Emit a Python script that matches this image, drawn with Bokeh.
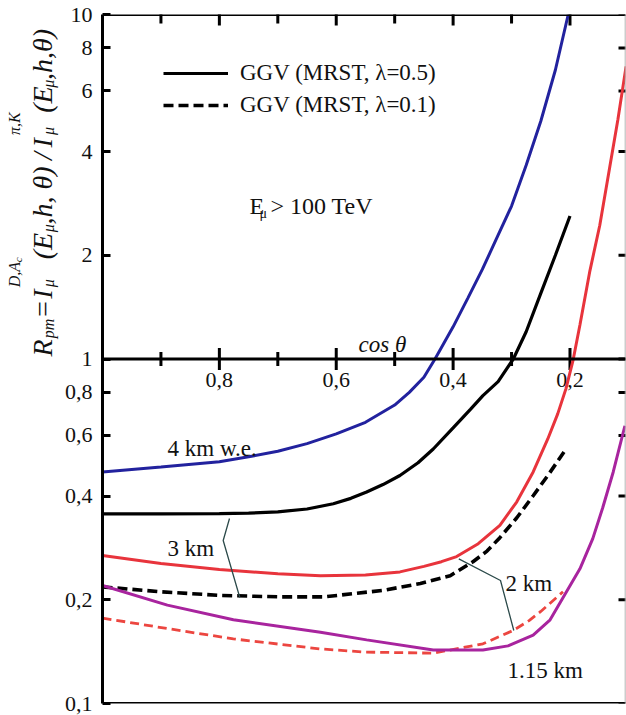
import math

from bokeh.core.properties import value
from bokeh.embed import file_html
from bokeh.layouts import row
from bokeh.models import (CustomJSTickFormatter, FixedTicker, Label, Legend,
                          LegendItem, Range1d, Span)
from bokeh.plotting import figure
from bokeh.resources import INLINE

# ---------------------------------------------------------------------------
# R_pm = I(prompt) / I(pi,K) versus cos(theta), E_mu > 100 TeV
# ---------------------------------------------------------------------------
# 4 km w.e., lambda = 0.5
cos_4km_l05 = [1.0, 0.9, 0.8, 0.75, 0.7, 0.65, 0.6, 0.55, 0.5, 0.475, 0.45, 0.431,
               0.4, 0.375, 0.35, 0.325, 0.3, 0.275, 0.25, 0.225, 0.203]
r_4km_l05 = [0.470, 0.486, 0.503, 0.520, 0.540, 0.568, 0.606, 0.655, 0.735, 0.80,
             0.885, 1.0, 1.24, 1.5, 1.82, 2.25, 2.78, 3.65, 4.9, 6.9, 10.0]

# 3 km, lambda = 0.5
cos_3km_l05 = [1.0, 0.9, 0.8, 0.75, 0.7, 0.65, 0.605, 0.575, 0.548, 0.52, 0.491,
               0.46, 0.434, 0.4, 0.37, 0.349, 0.323, 0.297, 0.275, 0.25, 0.225, 0.2]
r_3km_l05 = [0.355, 0.355, 0.356, 0.357, 0.360, 0.367, 0.380, 0.394, 0.411, 0.432,
             0.459, 0.500, 0.548, 0.631, 0.715, 0.783, 0.86, 1.0, 1.2, 1.55, 2.0, 2.6]

# 3 km, lambda = 0.1
cos_3km_l01 = [1.0, 0.9, 0.8, 0.7, 0.62, 0.52, 0.456, 0.405, 0.366, 0.342, 0.32,
               0.291, 0.263, 0.236, 0.209]
r_3km_l01 = [0.218, 0.211, 0.206, 0.204, 0.204, 0.213, 0.223, 0.235, 0.258, 0.277,
             0.303, 0.346, 0.401, 0.464, 0.541]

# 2 km, lambda = 0.5
cos_2km_l05 = [1.0, 0.9, 0.8, 0.7, 0.627, 0.55, 0.491, 0.45, 0.42, 0.394, 0.357,
               0.32, 0.291, 0.263, 0.238, 0.221, 0.207, 0.195, 0.183, 0.166, 0.149,
               0.132, 0.118, 0.104]
r_2km_l05 = [0.269, 0.255, 0.245, 0.238, 0.235, 0.236, 0.241, 0.250, 0.258, 0.267,
             0.291, 0.329, 0.385, 0.47, 0.586, 0.693, 0.819, 0.987, 1.255, 1.80,
             2.445, 3.6, 4.96, 7.07]

# 2 km, lambda = 0.1
cos_2km_l01 = [1.0, 0.889, 0.776, 0.627, 0.55, 0.434, 0.349, 0.297, 0.27, 0.25, 0.212]
r_2km_l01 = [0.177, 0.165, 0.154, 0.144, 0.141, 0.140, 0.149, 0.163, 0.174, 0.185, 0.211]

# 1.15 km, lambda = 0.5
cos_115km_l05 = [1.0, 0.889, 0.776, 0.627, 0.548, 0.434, 0.349, 0.306, 0.263, 0.234,
                 0.206, 0.183, 0.161, 0.144, 0.126, 0.106]
r_115km_l05 = [0.220, 0.193, 0.175, 0.161, 0.153, 0.143, 0.143, 0.147, 0.158, 0.175,
               0.211, 0.246, 0.301, 0.37, 0.47, 0.64]

# Axis ticks
Y_TICKS = [0.1, 0.2, 0.4, 0.6, 0.8, 1, 2, 4, 6, 8, 10]
X_MAJOR = [0.8, 0.6, 0.4, 0.2]
X_MINOR = [0.9, 0.7, 0.5, 0.3]
X_LABELS = ["0,8", "0,6", "0,4", "0,2"]

# ---------------------------------------------------------------------------
# Layout: a narrow strip for the vertical title, then the chart itself
# ---------------------------------------------------------------------------
TW = 60                      # width of the title strip
W, H = 566, 715              # chart canvas
BL, BR, BT, BB = 42, 1, 14, 12
X_START, X_END = 1.0, 0.105
Y_START, Y_END = 0.1, 10.0

SERIF = "Liberation Serif"
INK = "#111111"
BLUE = "#22229e"
RED = "#e8343c"
RED_D = "#ec4640"
MAGENTA = "#a8249e"
LEADER = "#2c4a4a"


def at(px, py):
    """Page pixel position -> chart data coordinates (annotation placement)."""
    fw = W - BL - BR
    fh = H - BT - BB
    x = X_START + (px - TW - BL) / fw * (X_END - X_START)
    ly0, ly1 = math.log10(Y_START), math.log10(Y_END)
    ly = ly0 + (H - BB - py) / fh * (ly1 - ly0)
    return x, 10 ** ly


p = figure(width=W, height=H, x_range=Range1d(X_START, X_END),
           y_range=Range1d(Y_START, Y_END), y_axis_type="log",
           x_axis_location=None, y_axis_location="left",
           output_backend="svg", toolbar_location=None,
           min_border_left=BL, min_border_right=BR,
           min_border_top=BT, min_border_bottom=BB)
p.grid.visible = False
p.outline_line_color = None
p.background_fill_color = "white"
p.border_fill_color = "white"

# left axis
ax = p.yaxis[0]
ax.ticker = FixedTicker(ticks=Y_TICKS, minor_ticks=[])
ax.formatter = CustomJSTickFormatter(code="return String(tick).replace('.', ',')")
ax.major_tick_in = 8
ax.major_tick_out = 0
ax.minor_tick_in = 0
ax.minor_tick_out = 0
ax.axis_line_width = 3
ax.major_tick_line_width = 3
ax.axis_line_color = "black"
ax.major_label_standoff = 10
ax.major_label_text_font = SERIF
ax.major_label_text_font_size = "22px"
ax.major_label_text_color = INK

# frame edges and the cos(theta) axis at R = 1
p.add_layout(Span(location=Y_END, dimension="width", line_color="black", line_width=3))
p.add_layout(Span(location=Y_START, dimension="width", line_color="black", line_width=3))
p.add_layout(Span(location=X_END, dimension="height", line_color="#9a9a9a", line_width=1.5))
p.add_layout(Span(location=1, dimension="width", line_color="black", line_width=3))

# ticks on the R = 1 axis
p.scatter(x=X_MAJOR, y=[1] * len(X_MAJOR), marker="dash", angle=math.pi / 2,
          size=22, line_width=3, line_color="black")
p.scatter(x=X_MINOR, y=[1] * len(X_MINOR), marker="dash", angle=math.pi / 2,
          size=14, line_width=3, line_color="black")
# ticks along the top edge
p.scatter(x=X_MAJOR, y=[Y_END] * len(X_MAJOR), marker="dash", angle=math.pi / 2,
          size=22, line_width=3, line_color="black")
p.scatter(x=X_MINOR, y=[Y_END] * len(X_MINOR), marker="dash", angle=math.pi / 2,
          size=18, line_width=3, line_color="black")
# ticks along the right edge
p.scatter(x=[X_END] * len(Y_TICKS), y=Y_TICKS, marker="dash",
          size=14, line_width=3, line_color="black")

# cos(theta) tick labels under the R = 1 axis
lab_y = at(0, 372)[1]
p.text(x=X_MAJOR, y=[lab_y] * len(X_MAJOR), text=X_LABELS,
       text_font=value(SERIF), text_font_size="22px", text_color=INK,
       text_align="center", text_baseline="top")

# ---------------------------------------------------------------------------
# Curves
# ---------------------------------------------------------------------------
p.line(cos_4km_l05, r_4km_l05, line_color=BLUE, line_width=3)
r_solid = p.line(cos_3km_l05, r_3km_l05, line_color="black", line_width=3.2)
r_dash = p.line(cos_3km_l01, r_3km_l01, line_color="black", line_width=3.6,
                line_dash="10 5")
p.line(cos_2km_l05, r_2km_l05, line_color=RED, line_width=3)
p.line(cos_2km_l01, r_2km_l01, line_color=RED_D, line_width=2.8, line_dash="9 5")
p.line(cos_115km_l05, r_115km_l05, line_color=MAGENTA, line_width=3)

# leader lines from the depth labels to their curves
lead_3km = [at(229, 518), at(222.7, 540), at(239.3, 597)]
lead_2km = [at(458.3, 558.3), at(500, 580), at(513.3, 630)]
for pts in (lead_3km, lead_2km):
    p.line([q[0] for q in pts], [q[1] for q in pts], line_color=LEADER, line_width=1.3)

# ---------------------------------------------------------------------------
# Legend
# ---------------------------------------------------------------------------
legend = Legend(items=[LegendItem(label="GGV (MRST, λ=0.5)", renderers=[r_solid]),
                       LegendItem(label="GGV (MRST, λ=0.1)", renderers=[r_dash])],
                location=(61, 582), margin=0, padding=0, spacing=0,
                glyph_width=65, glyph_height=32, label_height=32, label_standoff=12,
                label_text_font=SERIF, label_text_font_size="23px",
                label_text_color=INK, border_line_color=None,
                background_fill_color=None)
p.add_layout(legend)


def put(px, py, text, size="23px", style="normal"):
    x, y = at(px, py)
    p.add_layout(Label(x=x, y=y, text=text, text_font=SERIF, text_font_size=size,
                       text_font_style=style, text_color=INK, text_align="left",
                       text_baseline="alphabetic"))


# depth labels
put(167, 448, "4 km w.e.")
put(167, 548, "3 km")
put(505, 583, "2 km")
put(507, 670, "1.15 km")

# energy threshold
put(249, 205, "E", size="24px")
put(259, 213, "μ", size="14px")
put(270, 205, "> 100 TeV", size="24px")

# axis name on the R = 1 line
put(358, 344, "cos θ", style="italic")

# ---------------------------------------------------------------------------
# Vertical title strip (coordinates are page pixels, y downwards)
# R_pm = I_mu^{D,A_c}(E_mu,h,theta) / I_mu^{pi,K}(E_mu,h,theta)
# ---------------------------------------------------------------------------
t = figure(width=TW, height=H, x_range=Range1d(0, TW), y_range=Range1d(H, 0),
           x_axis_location=None, y_axis_location=None,
           output_backend="svg", toolbar_location=None,
           min_border_left=0, min_border_right=0, min_border_top=0, min_border_bottom=0)
t.grid.visible = False
t.outline_line_color = None
t.background_fill_color = "white"
t.border_fill_color = "white"

MAIN_X, SUB_X, SUP_X = 42, 48, 14
title_parts = [
    (MAIN_X, 355, "R", "28px", "italic"),
    (SUB_X, 336, "pm", "16px", "italic"),
    (MAIN_X, 314, "=", "28px", "normal"),
    (MAIN_X, 295, "I", "28px", "italic"),
    (SUP_X, 283, "D,A", "16px", "italic"),
    (SUP_X + 3, 257, "c", "11px", "italic"),
    (SUB_X, 283, "μ", "16px", "italic"),
    (MAIN_X, 254, "(E", "28px", "italic"),
    (SUB_X, 226, "μ", "16px", "italic"),
    (MAIN_X, 218, ",h, θ)", "28px", "italic"),
    (MAIN_X, 151, "/", "28px", "italic"),
    (MAIN_X, 138, "I", "28px", "italic"),
    (SUP_X, 125, "π,K", "16px", "italic"),
    (SUB_X, 125, "μ", "16px", "italic"),
    (MAIN_X, 102, "(E", "28px", "italic"),
    (SUB_X, 76, "μ", "16px", "italic"),
    (MAIN_X, 68, ",h,θ)", "28px", "italic"),
]
for bx, by, txt, size, style in title_parts:
    t.add_layout(Label(x=bx, y=by, text=txt, angle=90, angle_units="deg",
                       text_font=SERIF, text_font_size=size, text_font_style=style,
                       text_color=INK, text_align="left", text_baseline="alphabetic"))

layout = row(t, p)
open("out.html", "w").write(file_html(layout, INLINE))
